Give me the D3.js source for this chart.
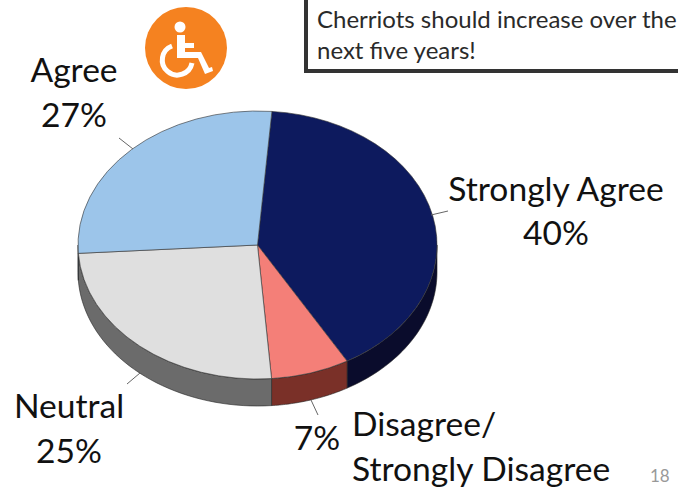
<!DOCTYPE html>
<html>
<head>
<meta charset="utf-8">
<script src="https://cdn.jsdelivr.net/npm/d3@7"></script>
<style>
  html, body { margin: 0; padding: 0; background: #fff; overflow: hidden; }
  text { font-family: Lato, "Open Sans", sans-serif; fill: #111; }
</style>
</head>
<body>
<div id="chart"></div>
<script>
// Values
const categories = ['Strongly Agree', 'Disagree/Strongly Disagree', 'Neutral', 'Agree'];
const shares = [40, 7, 25, 27];
const topColors = ['#0d1a5e', '#f47f78', '#dfdfdf', '#9cc5ea'];
const sideColors = ['#0a0c2c', '#7a3028', '#6b6b6b', '#5c7a96'];
const noteLines = ['Cherriots should increase over the', 'next five years!'];

const width = 678, height = 487;
const cx = 257.5, cy = 245, rx = 179.5, ry = 134, depth = 27;

const svg = d3.select('#chart').append('svg')
  .attr('width', width)
  .attr('height', height);

// Pie slices, clockwise from just past 12 o'clock
const startAngle = 4.6 * Math.PI / 180;
const pie = d3.pie().sort(null).startAngle(startAngle).endAngle(startAngle + 2 * Math.PI);
const slices = pie(shares);

const px = (a) => cx + rx * Math.sin(a);
const py = (a) => cy - ry * Math.cos(a);

// Side wall: only the part of each slice on the front half of the disc
const sidePath = (d) => {
  const from = Math.max(d.startAngle, Math.PI / 2);
  const to = Math.min(d.endAngle, 3 * Math.PI / 2);
  if (to <= from) return null;
  const steps = d3.range(0, 41).map((i) => from + (to - from) * i / 40);
  const line = d3.line();
  const lower = steps.map((a) => [px(a), py(a) + depth]);
  const upper = steps.slice().reverse().map((a) => [px(a), py(a)]);
  return line(lower.concat(upper)) + 'Z';
};

svg.append('g').selectAll('path')
  .data(slices)
  .join('path')
  .attr('d', sidePath)
  .attr('fill', (d, i) => sideColors[i])
  .attr('stroke', '#222')
  .attr('stroke-width', 0.6);

// Top face: a flat arc squashed into an ellipse
const arc = d3.arc().innerRadius(0).outerRadius(rx);
svg.append('g')
  .attr('transform', `translate(${cx},${cy}) scale(1,${ry / rx})`)
  .selectAll('path')
  .data(slices)
  .join('path')
  .attr('d', arc)
  .attr('fill', (d, i) => topColors[i])
  .attr('stroke', '#333')
  .attr('stroke-width', 0.7);

// Leader lines
const leaders = [
  [[431, 215], [448, 211]],
  [[311, 400], [318, 415]],
  [[127, 384], [140, 373]],
  [[133, 149], [119, 138]],
];
svg.append('g').selectAll('path')
  .data(leaders)
  .join('path')
  .attr('d', (d) => d3.line()(d))
  .attr('stroke', '#666')
  .attr('stroke-width', 1)
  .attr('fill', 'none');

// Category labels
const labels = [
  { text: 'Agree', x: 74, y: 82, anchor: 'middle' },
  { text: '27%', x: 74, y: 127, anchor: 'middle' },
  { text: 'Strongly Agree', x: 556, y: 201, anchor: 'middle' },
  { text: '40%', x: 556, y: 245, anchor: 'middle' },
  { text: 'Neutral', x: 69, y: 418, anchor: 'middle' },
  { text: '25%', x: 69, y: 463, anchor: 'middle' },
  { text: '7%', x: 317, y: 450, anchor: 'middle' },
  { text: 'Disagree/', x: 352, y: 436, anchor: 'start' },
  { text: 'Strongly Disagree', x: 352, y: 481, anchor: 'start' },
];
svg.append('g').selectAll('text')
  .data(labels)
  .join('text')
  .attr('x', (d) => d.x)
  .attr('y', (d) => d.y)
  .attr('text-anchor', (d) => d.anchor)
  .attr('font-size', 33.6)
  .text((d) => d.text);

// Note box, runs off the top and right of the slide
svg.append('rect')
  .attr('x', 306)
  .attr('y', -20)
  .attr('width', 400)
  .attr('height', 91)
  .attr('fill', '#fff')
  .attr('stroke', '#333')
  .attr('stroke-width', 4);

svg.append('g').selectAll('text')
  .data(noteLines)
  .join('text')
  .attr('x', 317)
  .attr('y', (d, i) => 28 + i * 31)
  .attr('font-size', 24)
  .style('fill', '#2a2a2a')
  .text((d) => d);

// Wheelchair badge
const badge = svg.append('g');
badge.append('circle').attr('cx', 186).attr('cy', 48).attr('r', 41).attr('fill', '#f58220');
badge.append('circle').attr('cx', 180).attr('cy', 27).attr('r', 5.5).attr('fill', '#fff');
badge.append('path')
  .attr('d', 'M177 35H185V43H194V48H185V52H201L209 68L212 67L213 71L205 74L198 58H177Z')
  .attr('fill', '#fff');
badge.append('path')
  .attr('d', 'M172 46A15 15 0 1 0 192 63')
  .attr('fill', 'none')
  .attr('stroke', '#fff')
  .attr('stroke-width', 5);

// Slide number
svg.append('text')
  .attr('x', 650)
  .attr('y', 482)
  .attr('font-size', 17)
  .style('fill', '#999')
  .text('18');
</script>
</body>
</html>
